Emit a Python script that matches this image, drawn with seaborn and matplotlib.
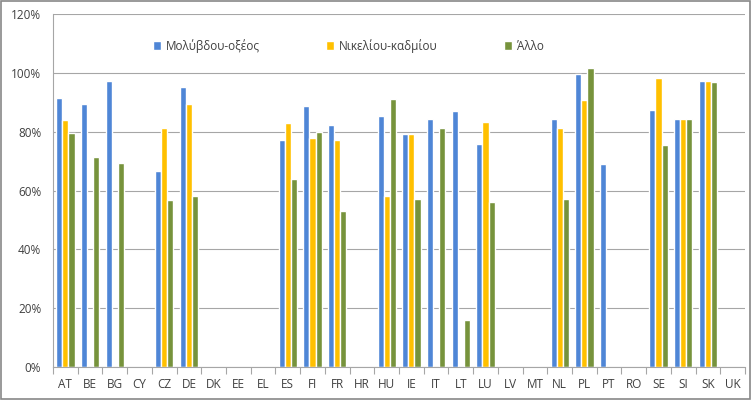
import numpy as np
import pandas as pd
import matplotlib
matplotlib.use("Agg")
import matplotlib.pyplot as plt
import seaborn as sns
from matplotlib.ticker import PercentFormatter, FixedLocator

countries = ["AT", "BE", "BG", "CY", "CZ", "DE", "DK", "EE", "EL", "ES", "FI", "FR", "HR", "HU",
             "IE", "IT", "LT", "LU", "LV", "MT", "NL", "PL", "PT", "RO", "SE", "SI", "SK", "UK"]
nan = np.nan
lead_acid = [91.5, 89.5, 97.3, nan, 66.7, 95.2, nan, nan, nan, 77.2, 88.8, 82.3, nan, 85.4,
             79.3, 84.4, 87.1, 75.9, nan, nan, 84.2, 99.7, 69.0, nan, 87.2, 84.2, 97.3, nan]
nicd = [84.0, nan, nan, nan, 81.3, 89.5, nan, nan, nan, 83.0, 77.7, 77.2, nan, 58.2,
        79.3, nan, nan, 83.3, nan, nan, 81.3, 90.8, nan, nan, 98.3, 84.2, 97.3, nan]
other = [79.6, 71.4, 69.4, nan, 56.8, 58.2, nan, nan, nan, 64.0, 80.0, 53.0, nan, 91.2,
         57.1, 81.3, 16.1, 56.1, nan, nan, 57.1, 101.7, nan, nan, 75.3, 84.2, 96.9, nan]
series_names = ["Μολύβδου-οξέος", "Νικελίου-καδμίου", "Άλλο"]
colors = ["#4F86D6", "#FFC000", "#77933C"]

rows = []
for name, vals in zip(series_names, [lead_acid, nicd, other]):
    for c, v in zip(countries, vals):
        rows.append({"country": c, "series": name, "value": v})
df = pd.DataFrame(rows)

sns.set_theme(style="white")
plt.rcParams['font.family'] = ['Open Sans', 'DejaVu Sans']

fig = plt.figure(figsize=(7.52, 4.0), dpi=100)
ax = fig.add_axes([0.0705, 0.0825, 0.9202, 0.8825])

sns.barplot(data=df, x="country", y="value", hue="series", order=countries,
            hue_order=series_names, palette=colors, width=0.74, gap=0,
            saturation=1, ax=ax, legend=True, errorbar=None)

ax.set_ylim(0, 120)
ax.set_xlim(-0.5, len(countries) - 0.5)
ax.yaxis.set_major_formatter(PercentFormatter(decimals=0))
ax.set_yticks(np.arange(0, 121, 20))
ax.yaxis.grid(True, color="#A6A6A6", linewidth=0.8)
ax.set_axisbelow(True)
ax.set_xlabel("")
ax.set_ylabel("")

for s in ["top", "right"]:
    ax.spines[s].set_visible(False)
for s in ["left", "bottom"]:
    ax.spines[s].set_color("#A6A6A6")
    ax.spines[s].set_linewidth(0.8)

ax.xaxis.set_minor_locator(FixedLocator(np.arange(-0.5, len(countries), 1)))
ax.tick_params(axis="x", which="major", length=0, labelsize=8.5, colors="#404040", pad=8)
ax.tick_params(axis="x", which="minor", length=5, color="#A6A6A6", width=0.8, direction="out")
ax.tick_params(axis="y", length=5, color="#A6A6A6", width=0.8, direction="out",
               labelsize=8.5, labelcolor="#404040")
ax.tick_params(bottom=True, which="both")

h, l = ax.get_legend_handles_labels()
ax.get_legend().remove()
leg = ax.legend(h, l, loc="upper left", bbox_to_anchor=(0.129, 0.96), ncol=3,
                frameon=False, handlelength=0.7, handleheight=0.7, handletextpad=0.4,
                columnspacing=5.6, fontsize=8.5)
for t in leg.get_texts():
    t.set_color("#404040")

fig.patches.append(plt.Rectangle((0.001, 0.002), 0.997, 0.996, transform=fig.transFigure,
                                 fill=False, edgecolor="#888888", linewidth=1.2))

fig.savefig("out.png", dpi=100)
